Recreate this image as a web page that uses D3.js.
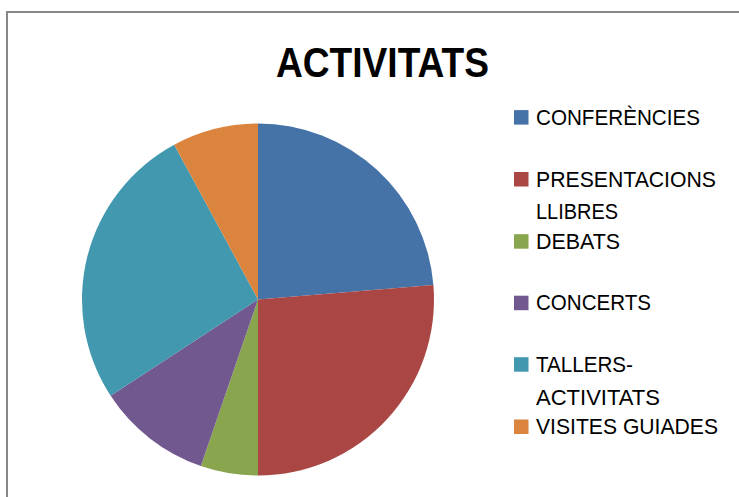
<!DOCTYPE html>
<html>
<head>
<meta charset="utf-8">
<script src="https://cdn.jsdelivr.net/npm/d3@7"></script>
<style>
  html, body { margin: 0; padding: 0; background: #fff; }
  svg { display: block; }
</style>
</head>
<body>
<svg id="chart" width="739" height="497"></svg>
<script>
const title = "ACTIVITATS";
const categories = ["CONFERÈNCIES", "PRESENTACIONS LLIBRES", "DEBATS", "CONCERTS", "TALLERS-ACTIVITATS", "VISITES GUIADES"];
const values = [9, 10, 2, 4, 10, 3];
const colors = ["#4572A7", "#AA4643", "#89A54E", "#71588F", "#4198AF", "#DB843D"];
// legend label lines (wrapped as in the reference)
const legendLines = [["CONFERÈNCIES"], ["PRESENTACIONS", "LLIBRES"], ["DEBATS"], ["CONCERTS"], ["TALLERS-", "ACTIVITATS"], ["VISITES GUIADES"]];
const legendWidths = [[164], [180, 82], [84], [115], [97, 124], [182]];

const svg = d3.select("#chart");

// chart frame
svg.append("rect")
  .attr("x", 7).attr("y", 12)
  .attr("width", 760).attr("height", 520)
  .attr("fill", "#fff")
  .attr("stroke", "#888").attr("stroke-width", 2);

// title
svg.append("text")
  .attr("x", 276).attr("y", 77)
  .attr("font-family", "Liberation Sans, Arial, sans-serif")
  .attr("font-weight", "bold")
  .attr("font-size", 42)
  .attr("textLength", 213)
  .attr("lengthAdjust", "spacingAndGlyphs")
  .attr("fill", "#000")
  .text(title);

// pie
const cx = 258, cy = 299.5, r = 176;
const pie = d3.pie().sort(null).value(d => d)(values);
const arc = d3.arc().innerRadius(0).outerRadius(r);
const color = d3.scaleOrdinal().domain(categories).range(colors);

svg.append("g")
  .attr("transform", `translate(${cx},${cy})`)
  .selectAll("path")
  .data(pie)
  .join("path")
  .attr("d", arc)
  .attr("fill", (d, i) => color(categories[i]))
  .attr("stroke", "none");

// legend
const baselines = [124.6, 186.5, 248.7, 310.2, 371.7, 434];
const lineGap = 32.8;
const lg = svg.append("g");
categories.forEach((c, i) => {
  const b = baselines[i];
  lg.append("rect")
    .attr("x", 514).attr("y", b - 14.5)
    .attr("width", 14.5).attr("height", 14.5)
    .attr("fill", color(c));
  legendLines[i].forEach((ln, j) => {
    lg.append("text")
      .attr("x", 536).attr("y", b + j * lineGap)
      .attr("font-family", "Liberation Sans, Arial, sans-serif")
      .attr("font-size", 21.5)
      .attr("textLength", legendWidths[i][j])
      .attr("lengthAdjust", "spacingAndGlyphs")
      .attr("fill", "#000")
      .text(ln);
  });
});
</script>
</body>
</html>
